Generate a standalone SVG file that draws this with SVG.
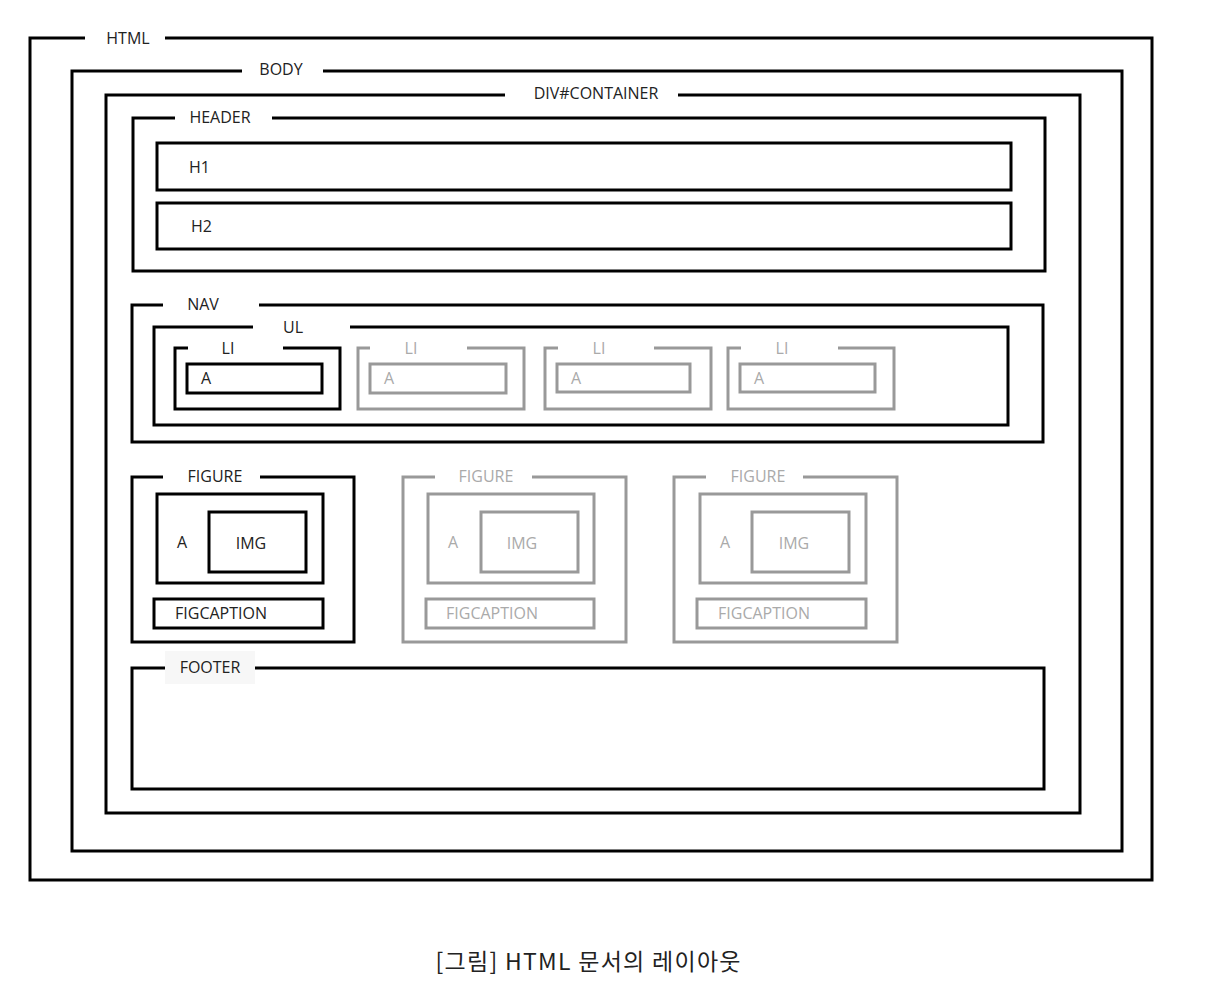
<svg xmlns="http://www.w3.org/2000/svg" width="1216" height="1000" viewBox="0 0 1216 1000">
<style>
.b{fill:none;stroke:#000;stroke-width:3;stroke-linejoin:miter}
.g{fill:none;stroke:#999;stroke-width:3;stroke-linejoin:miter}
.t{font-family:"Open Sans","Liberation Sans",sans-serif;font-size:16px;fill:#222}
.tg{font-family:"Open Sans","Liberation Sans",sans-serif;font-size:16px;fill:#aaa}
.m{text-anchor:middle}
.cap{font-family:"Noto Sans CJK KR","Noto Sans",sans-serif;font-size:23px;fill:#222;text-anchor:middle}
</style>
<rect width="1216" height="1000" fill="#fff"/>
<g id="html"><path class="b" d="M85,38 H30 V880 H1152 V38 H165"/><text class="t m" x="128" y="44">HTML</text></g>
<g id="body"><path class="b" d="M242,71 H72 V851 H1122 V71 H323"/><text class="t m" x="281" y="75">BODY</text></g>
<g id="container"><path class="b" d="M505,95 H106 V813 H1080 V95 H678"/><text class="t m" x="596" y="99">DIV#CONTAINER</text></g>
<g id="header"><path class="b" d="M175,118 H133 V271 H1045 V118 H272"/><text class="t m" x="220" y="123">HEADER</text></g>
<g id="h1"><rect class="b" x="157" y="143" width="854" height="47"/><text class="t" x="189" y="173">H1</text></g>
<g id="h2"><rect class="b" x="157" y="203" width="854" height="46"/><text class="t" x="191" y="232">H2</text></g>
<g id="nav"><path class="b" d="M163,305 H132 V442 H1043 V305 H259"/><text class="t m" x="203" y="310">NAV</text></g>
<g id="ul"><path class="b" d="M253,327 H154 V425 H1008 V327 H350"/><text class="t m" x="293" y="333">UL</text></g>
<g id="li1"><path class="b" d="M188,348 H175 V409 H340 V348 H283"/><text class="t m" x="228" y="354">LI</text></g>
<g id="a1"><rect class="b" x="187" y="364" width="135" height="29"/><text class="t" x="201" y="384">A</text></g>
<g id="li2"><path class="g" d="M370,348 H358 V409 H524 V348 H467"/><text class="tg m" x="411" y="354">LI</text></g>
<g id="a2"><rect class="g" x="370" y="364" width="136" height="29"/><text class="tg" x="384" y="384">A</text></g>
<g id="li3"><path class="g" d="M558,348 H545 V409 H711 V348 H654"/><text class="tg m" x="599" y="354">LI</text></g>
<g id="a3"><rect class="g" x="557" y="364" width="133" height="28"/><text class="tg" x="571" y="384">A</text></g>
<g id="li4"><path class="g" d="M741,348 H728 V409 H894 V348 H838"/><text class="tg m" x="782" y="354">LI</text></g>
<g id="a4"><rect class="g" x="740" y="364" width="135" height="28"/><text class="tg" x="754" y="384">A</text></g>
<g id="figure1"><path class="b" d="M163,477 H132 V642 H354 V477 H260"/><text class="t m" x="215" y="482">FIGURE</text>
<rect class="b" x="157" y="494" width="166" height="89"/><text class="t" x="177" y="548">A</text>
<rect class="b" x="209" y="512" width="97" height="60"/><text class="t m" x="251" y="549">IMG</text>
<rect class="b" x="154" y="599" width="169" height="29"/><text class="t m" x="221" y="619">FIGCAPTION</text></g>
<g id="figure2"><path class="g" d="M435,477 H403 V642 H626 V477 H532"/><text class="tg m" x="486" y="482">FIGURE</text>
<rect class="g" x="428" y="494" width="166" height="89"/><text class="tg" x="448" y="548">A</text>
<rect class="g" x="481" y="512" width="97" height="60"/><text class="tg m" x="522" y="549">IMG</text>
<rect class="g" x="426" y="599" width="168" height="29"/><text class="tg m" x="492" y="619">FIGCAPTION</text></g>
<g id="figure3"><path class="g" d="M706,477 H674 V642 H897 V477 H803"/><text class="tg m" x="758" y="482">FIGURE</text>
<rect class="g" x="700" y="494" width="166" height="89"/><text class="tg" x="720" y="548">A</text>
<rect class="g" x="752" y="512" width="97" height="60"/><text class="tg m" x="794" y="549">IMG</text>
<rect class="g" x="697" y="599" width="169" height="29"/><text class="tg m" x="764" y="619">FIGCAPTION</text></g>
<g id="footer"><rect x="165" y="651" width="90" height="33" fill="#f7f7f7"/><path class="b" d="M165,668 H132 V789 H1044 V668 H255"/><text class="t m" x="210" y="673">FOOTER</text></g>
<g id="connectors"></g>
<text class="cap" x="588" y="970" textLength="305" lengthAdjust="spacing">[그림] HTML 문서의 레이아웃</text>
</svg>
